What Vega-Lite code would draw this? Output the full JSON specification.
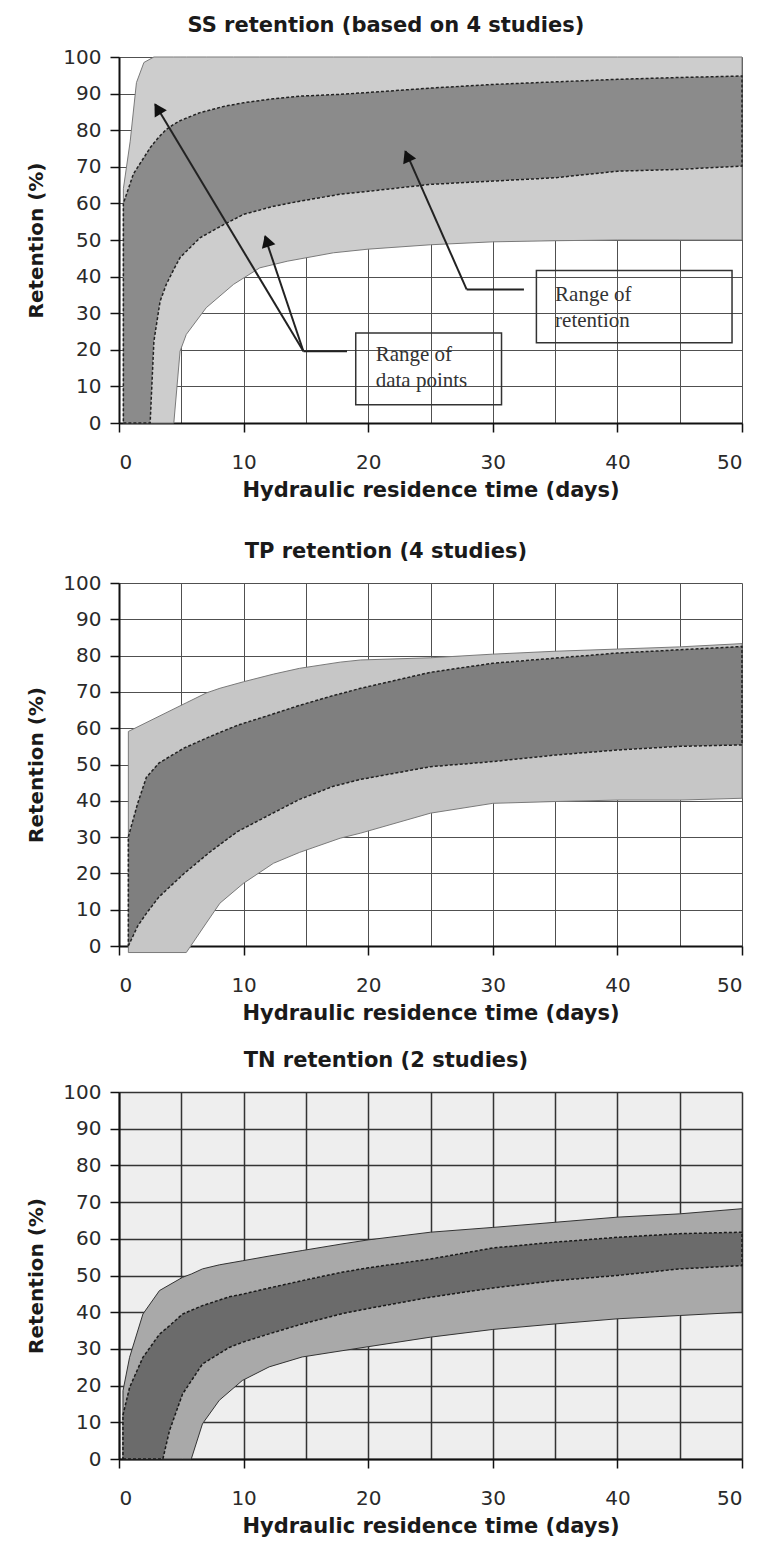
{
  "$schema": "https://vega.github.io/schema/vega-lite/v6.json",
  "background": "white",
  "padding": {"left": 26, "top": 15, "right": 5, "bottom": 5},
  "config": {
    "font": "DejaVu Sans",
    "view": {"stroke": null},
    "axis": {
      "labelFont": "DejaVu Sans", "labelFontSize": 20, "labelColor": "#2a2a2a",
      "titleFont": "DejaVu Sans", "titleFontSize": 21, "titleFontWeight": "bold", "titleColor": "#1a1a1a",
      "domainColor": "#111111", "domainWidth": 2,
      "tickColor": "#111111", "tickWidth": 1.5, "tickSize": 9,
      "gridColor": "#505050", "gridWidth": 1, "gridOpacity": 1,
      "labelOverlap": false, "zindex": 1
    },
    "axisY": {"labelPadding": 9, "titlePadding": 16, "titleFontSize": 20},
    "axisX": {"labelPadding": 20, "titlePadding": 7},
    "title": {"font": "DejaVu Sans", "fontSize": 21, "fontWeight": "bold", "color": "#1a1a1a", "anchor": "middle", "frame": "bounds", "offset": 11}
  },
  "datasets": {
    "ss_outer": [
      {"days": 0.35, "pct": 0, "pct2": 64}, {"days": 0.9, "pct": 0, "pct2": 77}, {"days": 1.4, "pct": 0, "pct2": 93},
      {"days": 2.0, "pct": 0, "pct2": 98.5}, {"days": 2.8, "pct": 0, "pct2": 100}, {"days": 4.4, "pct": 0, "pct2": 100},
      {"days": 4.9, "pct": 19.6, "pct2": 100}, {"days": 5.4, "pct": 24.2, "pct2": 100}, {"days": 7, "pct": 31.5, "pct2": 100},
      {"days": 9.2, "pct": 37.9, "pct2": 100}, {"days": 11.3, "pct": 42.4, "pct2": 100}, {"days": 13.5, "pct": 44.2, "pct2": 100},
      {"days": 17.2, "pct": 46.5, "pct2": 100}, {"days": 20, "pct": 47.5, "pct2": 100}, {"days": 25, "pct": 48.7, "pct2": 100},
      {"days": 30, "pct": 49.5, "pct2": 100}, {"days": 35, "pct": 49.8, "pct2": 100}, {"days": 40, "pct": 50, "pct2": 100},
      {"days": 45, "pct": 50, "pct2": 100}, {"days": 50, "pct": 50, "pct2": 100}
    ],
    "ss_inner": [
      {"days": 0.35, "pct": 0, "pct2": 60}, {"days": 1.15, "pct": 0, "pct2": 68}, {"days": 2.5, "pct": 0, "pct2": 75.2},
      {"days": 2.8, "pct": 22.3, "pct2": 76.5}, {"days": 3.3, "pct": 33.3, "pct2": 78.5}, {"days": 3.8, "pct": 37.9, "pct2": 80.2},
      {"days": 4.4, "pct": 42, "pct2": 81.6}, {"days": 4.9, "pct": 45.2, "pct2": 82.6}, {"days": 6.5, "pct": 50.6, "pct2": 84.8},
      {"days": 8.4, "pct": 54.2, "pct2": 86.5}, {"days": 10, "pct": 57, "pct2": 87.5}, {"days": 12.4, "pct": 59.2, "pct2": 88.6},
      {"days": 14.5, "pct": 60.6, "pct2": 89.3}, {"days": 17.75, "pct": 62.5, "pct2": 89.8}, {"days": 20, "pct": 63.3, "pct2": 90.3},
      {"days": 25, "pct": 65.2, "pct2": 91.5}, {"days": 30, "pct": 66.1, "pct2": 92.5}, {"days": 35, "pct": 67, "pct2": 93.2},
      {"days": 40, "pct": 68.8, "pct2": 93.9}, {"days": 45, "pct": 69.3, "pct2": 94.4}, {"days": 50, "pct": 70.2, "pct2": 94.8}
    ],
    "tp_outer": [
      {"days": 0.75, "pct": -1.8, "pct2": 59.1}, {"days": 5.4, "pct": -1.8, "pct2": 67}, {"days": 7, "pct": 6.3, "pct2": 69.7},
      {"days": 8.1, "pct": 11.8, "pct2": 71}, {"days": 10, "pct": 17.3, "pct2": 72.8}, {"days": 12.4, "pct": 22.8, "pct2": 74.9},
      {"days": 14.5, "pct": 25.8, "pct2": 76.5}, {"days": 17.75, "pct": 29.7, "pct2": 78.2}, {"days": 19.4, "pct": 31.1, "pct2": 78.8},
      {"days": 25, "pct": 36.6, "pct2": 79.4}, {"days": 30, "pct": 39.3, "pct2": 80.4}, {"days": 35, "pct": 39.8, "pct2": 81.2},
      {"days": 40, "pct": 40.2, "pct2": 81.8}, {"days": 45, "pct": 40.2, "pct2": 82.4}, {"days": 50, "pct": 40.7, "pct2": 83.3}
    ],
    "tp_inner": [
      {"days": 0.75, "pct": 0, "pct2": 30.1}, {"days": 1.5, "pct": 5.5, "pct2": 39.3}, {"days": 2.2, "pct": 9, "pct2": 46.5},
      {"days": 3.2, "pct": 13.5, "pct2": 50.4}, {"days": 5.2, "pct": 19.9, "pct2": 54.5}, {"days": 7.3, "pct": 25.9, "pct2": 57.7},
      {"days": 9.5, "pct": 31.5, "pct2": 60.8}, {"days": 11.9, "pct": 35.8, "pct2": 63.4}, {"days": 14.5, "pct": 40.4, "pct2": 66.3},
      {"days": 17.2, "pct": 44, "pct2": 69.0}, {"days": 19.4, "pct": 45.9, "pct2": 71.0}, {"days": 25, "pct": 49.4, "pct2": 75.4},
      {"days": 30, "pct": 50.8, "pct2": 77.9}, {"days": 35, "pct": 52.6, "pct2": 79.3}, {"days": 40, "pct": 54, "pct2": 80.7},
      {"days": 45, "pct": 55, "pct2": 81.6}, {"days": 50, "pct": 55.4, "pct2": 82.5}
    ],
    "tn_outer": [
      {"days": 0.32, "pct": 0, "pct2": 18.6}, {"days": 0.85, "pct": 0, "pct2": 27.7}, {"days": 1.92, "pct": 0, "pct2": 39.5},
      {"days": 3.25, "pct": 0, "pct2": 45.9}, {"days": 5.1, "pct": 0, "pct2": 49.5}, {"days": 5.8, "pct": 0, "pct2": 50.4},
      {"days": 6.7, "pct": 9.6, "pct2": 51.8}, {"days": 8.05, "pct": 16, "pct2": 52.9}, {"days": 9.9, "pct": 21.4, "pct2": 54},
      {"days": 12.05, "pct": 25.1, "pct2": 55.3}, {"days": 14.7, "pct": 27.8, "pct2": 56.8}, {"days": 17.9, "pct": 29.5, "pct2": 58.6},
      {"days": 20, "pct": 30.6, "pct2": 59.7}, {"days": 25, "pct": 33.2, "pct2": 61.8}, {"days": 30, "pct": 35.3, "pct2": 63.1},
      {"days": 35, "pct": 36.8, "pct2": 64.5}, {"days": 40, "pct": 38.2, "pct2": 65.9}, {"days": 45, "pct": 39.1, "pct2": 66.8},
      {"days": 50, "pct": 40, "pct2": 68.2}
    ],
    "tn_inner": [
      {"days": 0.32, "pct": 0, "pct2": 12}, {"days": 0.85, "pct": 0, "pct2": 19.5}, {"days": 1.92, "pct": 0, "pct2": 27.7},
      {"days": 3.25, "pct": 0, "pct2": 34}, {"days": 3.52, "pct": 0, "pct2": 34.8}, {"days": 4.05, "pct": 7.7, "pct2": 36.3},
      {"days": 5.1, "pct": 17.7, "pct2": 39.5}, {"days": 6.7, "pct": 25.9, "pct2": 41.8}, {"days": 8.85, "pct": 30.4, "pct2": 44.2},
      {"days": 9.9, "pct": 31.8, "pct2": 44.9}, {"days": 12.05, "pct": 34.1, "pct2": 46.6}, {"days": 14.7, "pct": 36.8, "pct2": 48.6},
      {"days": 17.9, "pct": 39.6, "pct2": 50.9}, {"days": 20, "pct": 41, "pct2": 52.1}, {"days": 25, "pct": 44.1, "pct2": 54.5},
      {"days": 30, "pct": 46.6, "pct2": 57.5}, {"days": 35, "pct": 48.6, "pct2": 59.1}, {"days": 40, "pct": 50, "pct2": 60.4},
      {"days": 45, "pct": 51.8, "pct2": 61.4}, {"days": 50, "pct": 52.7, "pct2": 61.8}
    ],
    "ss_arrows": [
      {"days": 14.8, "pct": 19.6, "days2": 2.9, "pct2": 87.1},
      {"days": 14.8, "pct": 19.6, "days2": 11.7, "pct2": 51.0},
      {"days": 14.8, "pct": 19.6, "days2": 18.3, "pct2": 19.6},
      {"days": 27.9, "pct": 36.5, "days2": 23.0, "pct2": 74.3},
      {"days": 27.9, "pct": 36.5, "days2": 32.5, "pct2": 36.5}
    ],
    "ss_boxes": [
      {"days": 19.0, "pct": 5.0, "days2": 30.7, "pct2": 24.6},
      {"days": 33.5, "pct": 21.9, "days2": 49.2, "pct2": 41.7}
    ],
    "ss_labels": [
      {"days": 20.6, "pct": 16.9, "label": "Range of\ndata points"},
      {"days": 35.0, "pct": 33.3, "label": "Range of\nretention"}
    ]
  },
  "spacing": 41,
  "vconcat": [
    {
      "width": 623, "height": 366,
      "title": "SS retention (based on 4 studies)",
      "encoding": {
        "x": {"field": "days", "type": "quantitative", "scale": {"domain": [0, 50], "nice": false},
              "axis": {"title": "Hydraulic residence time (days)", "values": [0,5,10,15,20,25,30,35,40,45,50],
                       "labelExpr": "datum.value % 10 === 0 ? datum.label : ''",
                       "tickOpacity": {"condition": {"test": "datum.value % 10 !== 0", "value": 0}, "value": 1}}},
        "y": {"field": "pct", "type": "quantitative", "scale": {"domain": [0, 100], "nice": false},
              "axis": {"title": "Retention (%)", "values": [0,10,20,30,40,50,60,70,80,90,100]}}
      },
      "layer": [
        {"data": {"name": "ss_outer"}, "mark": {"type": "area", "fill": "#cdcdcd", "stroke": "#7a7a7a", "strokeWidth": 1},
         "encoding": {"y2": {"field": "pct2"}}},
        {"data": {"name": "ss_inner"}, "mark": {"type": "area", "fill": "#8b8b8b", "stroke": "#222222", "strokeWidth": 1.5, "strokeDash": [3, 2]},
         "encoding": {"y2": {"field": "pct2"}}},
        {"data": {"name": "ss_boxes"}, "mark": {"type": "rect", "fillOpacity": 0, "stroke": "#333333", "strokeWidth": 1.5},
         "encoding": {"x2": {"field": "days2"}, "y2": {"field": "pct2"}}},
        {"data": {"name": "ss_arrows"}, "mark": {"type": "rule", "stroke": "#222222", "strokeWidth": 2},
         "encoding": {"x2": {"field": "days2"}, "y2": {"field": "pct2"}}},
        {"data": {"values": [{"days": 3.1, "pct": 85.9}]}, "mark": {"type": "point", "shape": "triangle-up", "filled": true, "fill": "#111111", "opacity": 1, "size": 200, "angle": 329}},
        {"data": {"values": [{"days": 11.86, "pct": 49.8}]}, "mark": {"type": "point", "shape": "triangle-up", "filled": true, "fill": "#111111", "opacity": 1, "size": 200, "angle": 342}},
        {"data": {"values": [{"days": 23.13, "pct": 73.0}]}, "mark": {"type": "point", "shape": "triangle-up", "filled": true, "fill": "#111111", "opacity": 1, "size": 200, "angle": 336}},
        {"data": {"name": "ss_labels"}, "mark": {"type": "text", "font": "Liberation Serif", "fontSize": 21, "align": "left", "baseline": "alphabetic", "lineBreak": "\n", "lineHeight": 26, "color": "#333333"},
         "encoding": {"text": {"field": "label"}}}
      ]
    },
    {
      "spacing": 27,
      "vconcat": [
        {
          "width": 623, "height": 363,
          "title": "TP retention (4 studies)",
          "encoding": {
            "x": {"field": "days", "type": "quantitative", "scale": {"domain": [0, 50], "nice": false},
                  "axis": {"title": "Hydraulic residence time (days)", "values": [0,5,10,15,20,25,30,35,40,45,50],
                           "labelExpr": "datum.value % 10 === 0 ? datum.label : ''",
                           "tickOpacity": {"condition": {"test": "datum.value % 10 !== 0", "value": 0}, "value": 1}}},
            "y": {"field": "pct", "type": "quantitative", "scale": {"domain": [0, 100], "nice": false},
                  "axis": {"title": "Retention (%)", "values": [0,10,20,30,40,50,60,70,80,90,100]}}
          },
          "layer": [
            {"data": {"name": "tp_outer"}, "mark": {"type": "area", "fill": "#c6c6c6", "stroke": "#7a7a7a", "strokeWidth": 1},
             "encoding": {"y2": {"field": "pct2"}}},
            {"data": {"name": "tp_inner"}, "mark": {"type": "area", "fill": "#7f7f7f", "stroke": "#222222", "strokeWidth": 1.5, "strokeDash": [3, 2]},
             "encoding": {"y2": {"field": "pct2"}}}
          ]
        },
        {
          "width": 623, "height": 367,
          "title": "TN retention (2 studies)",
          "view": {"fill": "#eeeeee", "stroke": null},
          "encoding": {
            "x": {"field": "days", "type": "quantitative", "scale": {"domain": [0, 50], "nice": false},
                  "axis": {"title": "Hydraulic residence time (days)", "values": [0,5,10,15,20,25,30,35,40,45,50], "gridColor": "#333333", "gridWidth": 1.5,
                           "labelExpr": "datum.value % 10 === 0 ? datum.label : ''",
                           "tickOpacity": {"condition": {"test": "datum.value % 10 !== 0", "value": 0}, "value": 1}}},
            "y": {"field": "pct", "type": "quantitative", "scale": {"domain": [0, 100], "nice": false},
                  "axis": {"title": "Retention (%)", "values": [0,10,20,30,40,50,60,70,80,90,100], "gridColor": "#333333", "gridWidth": 1.5}}
          },
          "layer": [
            {"data": {"name": "tn_outer"}, "mark": {"type": "area", "fill": "#a9a9a9", "stroke": "#333333", "strokeWidth": 1},
             "encoding": {"y2": {"field": "pct2"}}},
            {"data": {"name": "tn_inner"}, "mark": {"type": "area", "fill": "#6b6b6b", "stroke": "#1a1a1a", "strokeWidth": 1.5, "strokeDash": [3, 2]},
             "encoding": {"y2": {"field": "pct2"}}}
          ]
        }
      ]
    }
  ]
}
